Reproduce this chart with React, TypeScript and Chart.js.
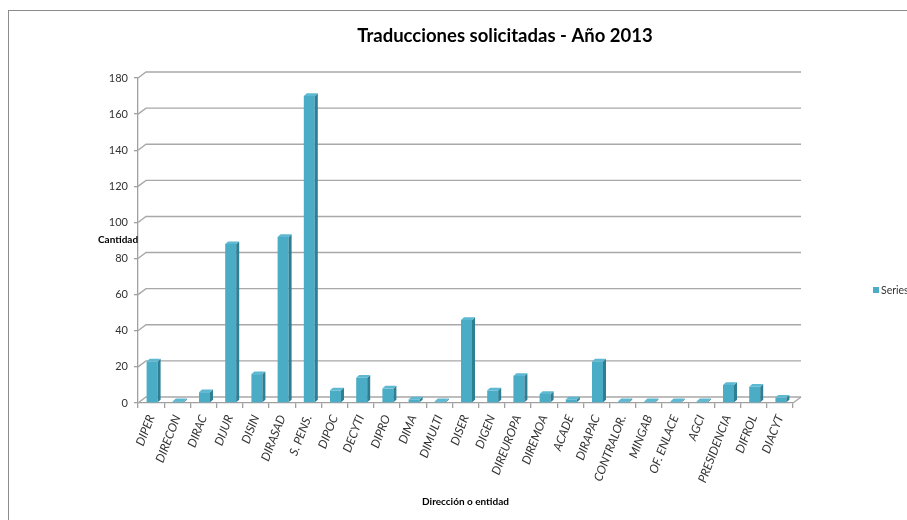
import React, { useEffect, useRef } from "react";
import { Chart, registerables } from "chart.js";

Chart.register(...registerables);

const chartTitle = "Traducciones solicitadas - Año 2013";
const yAxisTitle = "Cantidad";
const xAxisTitle = "Dirección o entidad";
const seriesName = "Series1";

const categories = [
  "DIPER", "DIRECON", "DIRAC", "DIJUR", "DISIN", "DIRASAD", "S. PENS.", "DIPOC",
  "DECYTI", "DIPRO", "DIMA", "DIMULTI", "DISER", "DIGEN", "DIREUROPA", "DIREMOA",
  "ACADE", "DIRAPAC", "CONTRALOR.", "MINGAB", "OF. ENLACE", "AGCI", "PRESIDENCIA",
  "DIFROL", "DIACYT",
];
const seriesValues = [
  23, 1, 6, 88, 16, 92, 170, 7,
  14, 8, 2, 1, 46, 7, 15, 5,
  2, 23, 1, 1, 1, 1, 10,
  9, 3,
];
const yTicks = [0, 20, 40, 60, 80, 100, 120, 140, 160, 180];

const FONT = "Lato, 'Open Sans', sans-serif";
const BAR = "#4BACC6";
const BAR_SIDE = "#2F7F94";
const BAR_TOP = "#5DB9D1";
const GRID = "#a8a8a8";
const AXIS = "#a0a0a0";
const TEXT = "#333333";

const WALL_DX = 8;
const WALL_DY = -6;
const BAR_DX = 3;
const BAR_DY = -2.7;

const excel3d = {
  id: "excel3d",
  beforeDatasetsDraw(chart: any) {
    const { ctx, chartArea } = chart;
    const { left, right, bottom } = chartArea;
    const ys = chart.scales.y;
    ctx.save();
    ctx.strokeStyle = GRID;
    ctx.lineWidth = 1.4;
    ys.ticks.forEach((t: any) => {
      const y = ys.getPixelForValue(t.value);
      ctx.beginPath();
      ctx.moveTo(left, y);
      ctx.lineTo(left + WALL_DX, y + WALL_DY);
      ctx.lineTo(right + WALL_DX, y + WALL_DY);
      ctx.stroke();
    });
    ctx.beginPath();
    ctx.moveTo(right, bottom);
    ctx.lineTo(right + WALL_DX, bottom + WALL_DY);
    ctx.stroke();
    ctx.restore();
    ctx.save();
    ctx.translate(1, 0);
  },
  afterDatasetsDraw(chart: any) {
    const { ctx } = chart;
    chart.getDatasetMeta(0).data.forEach((bar: any) => {
      const { x, y, base, width } = bar.getProps(["x", "y", "base", "width"], true);
      const l = x - width / 2;
      const r = x + width / 2;
      ctx.fillStyle = BAR_SIDE;
      ctx.beginPath();
      ctx.moveTo(r, y);
      ctx.lineTo(r + BAR_DX, y + BAR_DY);
      ctx.lineTo(r + BAR_DX, base + BAR_DY);
      ctx.lineTo(r, base);
      ctx.closePath();
      ctx.fill();
      ctx.fillStyle = BAR_TOP;
      ctx.beginPath();
      ctx.moveTo(l, y);
      ctx.lineTo(l + BAR_DX, y + BAR_DY);
      ctx.lineTo(r + BAR_DX, y + BAR_DY);
      ctx.lineTo(r, y);
      ctx.closePath();
      ctx.fill();
    });
    ctx.restore();
  },
  afterDraw(chart: any) {
    const { ctx, chartArea } = chart;
    ctx.save();
    ctx.fillStyle = "#000";
    ctx.textBaseline = "middle";
    ctx.textAlign = "center";
    ctx.font = `bold 18.5px ${FONT}`;
    ctx.fillText(chartTitle, 496, 25.5);

    ctx.font = `bold 10px ${FONT}`;
    ctx.fillText(xAxisTitle, (chartArea.left + chartArea.right) / 2, 491);

    ctx.textAlign = "left";
    ctx.fillText(yAxisTitle, 89, 229);

    ctx.fillStyle = BAR;
    ctx.fillRect(864, 276, 6, 6);
    ctx.fillStyle = TEXT;
    ctx.font = `10.5px ${FONT}`;
    ctx.fillText(seriesName, 872, 279.5);
    ctx.restore();
  },
};

export default function App() {
  const canvasRef = useRef<HTMLCanvasElement | null>(null);

  useEffect(() => {
    const canvas = canvasRef.current;
    if (!canvas) return;
    const chart = new Chart(canvas, {
      type: "bar",
      data: {
        labels: categories,
        datasets: [
          {
            label: seriesName,
            data: seriesValues,
            backgroundColor: BAR,
            borderWidth: 0,
            barPercentage: 0.42,
            categoryPercentage: 1,
          },
        ],
      },
      options: {
        responsive: false,
        animation: false,
        layout: { padding: { top: 67, right: 176, bottom: 0, left: 0 } },
        plugins: {
          legend: { display: false },
          title: { display: false },
          tooltip: { enabled: false },
        },
        scales: {
          x: {
            grid: {
              display: true,
              drawOnChartArea: false,
              drawTicks: true,
              tickLength: 5,
              color: AXIS,
              lineWidth: 1.3,
              offset: true,
            },
            border: { display: true, color: AXIS, width: 1.3 },
            ticks: {
              autoSkip: false,
              minRotation: 69,
              maxRotation: 69,
              padding: 5,
              color: TEXT,
              font: { family: FONT, size: 12, style: "italic" },
            },
            afterFit: (s: any) => {
              s.height = 118;
            },
          },
          y: {
            min: 0,
            max: 180,
            grid: {
              display: true,
              drawOnChartArea: false,
              drawTicks: true,
              tickLength: 4,
              color: AXIS,
              lineWidth: 1.3,
            },
            border: { display: true, color: AXIS, width: 1.3 },
            ticks: {
              padding: 6,
              color: TEXT,
              font: { family: FONT, size: 11 },
            },
            afterBuildTicks: (s: any) => {
              s.ticks = yTicks.map((v) => ({ value: v }));
            },
            afterFit: (s: any) => {
              s.width = 129;
            },
          },
        },
      },
      plugins: [excel3d],
    });
    return () => chart.destroy();
  }, []);

  return (
    <div
      style={{
        position: "relative",
        width: 907,
        height: 520,
        overflow: "hidden",
        background: "#fff",
      }}
    >
      <style>{"html,body{margin:0;padding:0;overflow:hidden;}"}</style>
      <div
        style={{
          position: "absolute",
          left: 8,
          top: 10,
          width: 960,
          height: 520,
          borderLeft: "1px solid #8c8c8c",
          borderTop: "1px solid #8c8c8c",
          background: "#fff",
        }}
      >
        <canvas ref={canvasRef} width={960} height={510} style={{ display: "block" }} />
      </div>
    </div>
  );
}
